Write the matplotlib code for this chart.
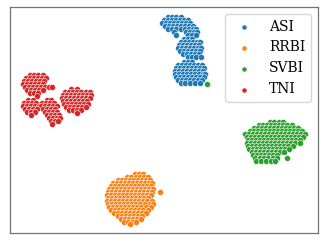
import matplotlib
matplotlib.use("Agg")
import matplotlib.pyplot as plt

labels = ["ASI", "RRBI", "SVBI", "TNI"]
colors = ["#1f77b4", "#ff7f0e", "#2ca02c", "#d62728"]

# Embedding coordinates, grouped by rows: (y, [x, ...])
asi_rows = [
    (17, [168, 172, 176, 181]),
    (20, [164, 168, 172, 176, 180, 184, 188]),
    (23, [162, 166, 170, 174, 178, 182, 186, 190]),
    (26, [165, 169, 173, 177, 181, 185, 189, 193]),
    (29, [168, 172, 176, 181, 185, 189, 193, 196]),
    (32, [174, 186, 190, 194, 197]),
    (35, [176, 188, 192, 196]),
    (39, [184, 188, 192]),
    (42, [181, 185, 189, 193, 197, 200]),
    (45, [179, 183, 187, 191, 195, 199]),
    (48, [178, 182, 186, 190, 194, 198, 201]),
    (51, [180, 184, 188, 192, 196, 200]),
    (54, [183, 187, 191, 195, 199]),
    (57, [188, 192, 196, 201]),
    (62, [184, 188, 192]),
    (65, [178, 182, 186, 190, 194, 198, 202]),
    (68, [176, 180, 184, 188, 192, 196, 200, 204]),
    (71, [175, 179, 183, 187, 191, 195, 199, 203]),
    (74, [175, 179, 183, 187, 191, 195, 199, 203, 205]),
    (77, [176, 180, 184, 188, 192, 196, 200, 204]),
    (80, [178, 182, 186, 190, 194, 198, 202]),
    (83, [181, 185, 190, 195, 200]),
]

rrbi_rows = [
    (174, [135, 139, 143]),
    (177, [127, 131, 136, 140, 144, 148]),
    (180, [118, 122, 126, 130, 134, 138, 142, 146, 150]),
    (183, [113, 117, 121, 125, 129, 133, 137, 141, 145, 149, 152]),
    (186, [111, 115, 119, 123, 127, 131, 135, 139, 143, 147, 151]),
    (189, [109, 113, 117, 121, 125, 129, 133, 137, 141, 145, 149, 153]),
    (192, [108, 112, 116, 120, 124, 128, 132, 136, 140, 144, 148, 152, 160]),
    (195, [107, 111, 115, 119, 123, 127, 131, 135, 139, 143, 147, 151]),
    (198, [108, 112, 116, 120, 124, 128, 132, 136, 140, 144, 148]),
    (201, [107, 111, 115, 119, 123, 127, 131, 135, 139, 143, 147, 152]),
    (204, [108, 112, 116, 120, 124, 128, 132, 136, 140, 145, 150, 153]),
    (207, [109, 113, 117, 121, 125, 129, 133, 137, 141, 146, 151]),
    (210, [111, 115, 119, 123, 127, 131, 135, 139, 143, 148]),
    (213, [114, 118, 122, 126, 130, 134, 138, 142, 146]),
    (216, [118, 122, 126, 130, 134, 138, 142]),
    (219, [121, 125, 129, 133, 137, 141]),
    (222, [124, 128, 132, 136]),
    (224, [130]),
]

svbi_rows = [
    (122, [270, 274, 279, 283]),
    (125, [259, 263, 267, 271, 275, 279, 283, 287, 292]),
    (128, [254, 258, 262, 266, 270, 274, 278, 282, 286, 290, 294, 298]),
    (131, [250, 254, 258, 262, 266, 270, 274, 278, 282, 286, 290, 294, 298, 302]),
    (134, [245, 249, 253, 257, 261, 265, 269, 273, 277, 281, 285, 289, 293, 297, 301, 305]),
    (137, [247, 251, 255, 259, 263, 267, 271, 275, 279, 283, 287, 291, 295, 299, 303]),
    (140, [248, 252, 256, 260, 264, 268, 272, 276, 280, 284, 288, 292, 296, 300]),
    (143, [247, 251, 255, 259, 263, 267, 271, 275, 279, 283, 287, 291, 295, 300]),
    (146, [248, 252, 256, 260, 264, 268, 272, 276, 280, 284, 288, 293]),
    (149, [249, 253, 257, 261, 265, 269, 273, 277, 281, 285, 289]),
    (152, [252, 256, 260, 264, 268, 272, 276, 280, 284]),
    (155, [253, 257, 261, 265, 269, 273, 277]),
    (158, [255, 260, 264, 268, 273, 277, 287]),
    (161, [256, 261, 266, 271, 275]),
    (84, [207]),
]

tni_rows = [
    (75, [30, 34, 38, 43]),
    (78, [26, 30, 34, 38, 42, 46]),
    (81, [24, 28, 32, 36, 40, 44]),
    (84, [23, 27, 31, 35, 39, 43]),
    (87, [25, 29, 33, 37, 41, 45, 49, 52]),
    (90, [27, 31, 35, 39, 43]),
    (93, [30, 34, 38]),
    (96, [37]),
    (100, [28, 33, 47, 51]),
    (103, [24, 28, 32, 36, 42, 46, 50, 54]),
    (106, [23, 27, 31, 35, 39, 41, 45, 49, 53, 57]),
    (109, [25, 29, 33, 37, 43, 47, 51, 55]),
    (112, [27, 31, 35, 45, 49, 53, 57]),
    (115, [31, 47, 51, 55, 59]),
    (118, [49, 53, 57, 60]),
    (121, [51, 55, 58]),
    (124, [52]),
    (89, [71, 77]),
    (92, [65, 69, 73, 77, 81, 86, 90]),
    (95, [63, 67, 71, 75, 79, 83, 87, 91]),
    (98, [62, 66, 70, 74, 78, 82, 86, 90]),
    (101, [63, 67, 71, 75, 79, 83, 87]),
    (104, [64, 68, 72, 76, 80, 84, 88]),
    (107, [66, 70, 74, 78, 82, 86]),
    (110, [69, 73, 77, 81]),
    (113, [77]),
]


def flatten(rows):
    xs, ys = [], []
    for y, row in rows:
        for x in row:
            xs.append(x)
            ys.append(y)
    return xs, ys


plt.rcParams["font.family"] = ["DejaVu Serif"]
fig = plt.figure(figsize=(3.27, 2.45), dpi=100)
ax = fig.add_axes([10 / 327, 1 - 233 / 245, 308 / 327, 226 / 245])

for rows, lab, col in zip([asi_rows, rrbi_rows, svbi_rows, tni_rows], labels, colors):
    xs, ys = flatten(rows)
    ax.scatter(xs, ys, s=19, c=col, edgecolors="white", linewidths=0.4, label=lab)

ax.set_xlim(10, 318)
ax.set_ylim(233, 7)
ax.set_xticks([])
ax.set_yticks([])
for sp in ax.spines.values():
    sp.set_color("0.45")
    sp.set_linewidth(0.9)

leg = ax.legend(loc="upper right", fontsize=10, markerscale=0.85)
fig.savefig("out.png", dpi=100)
